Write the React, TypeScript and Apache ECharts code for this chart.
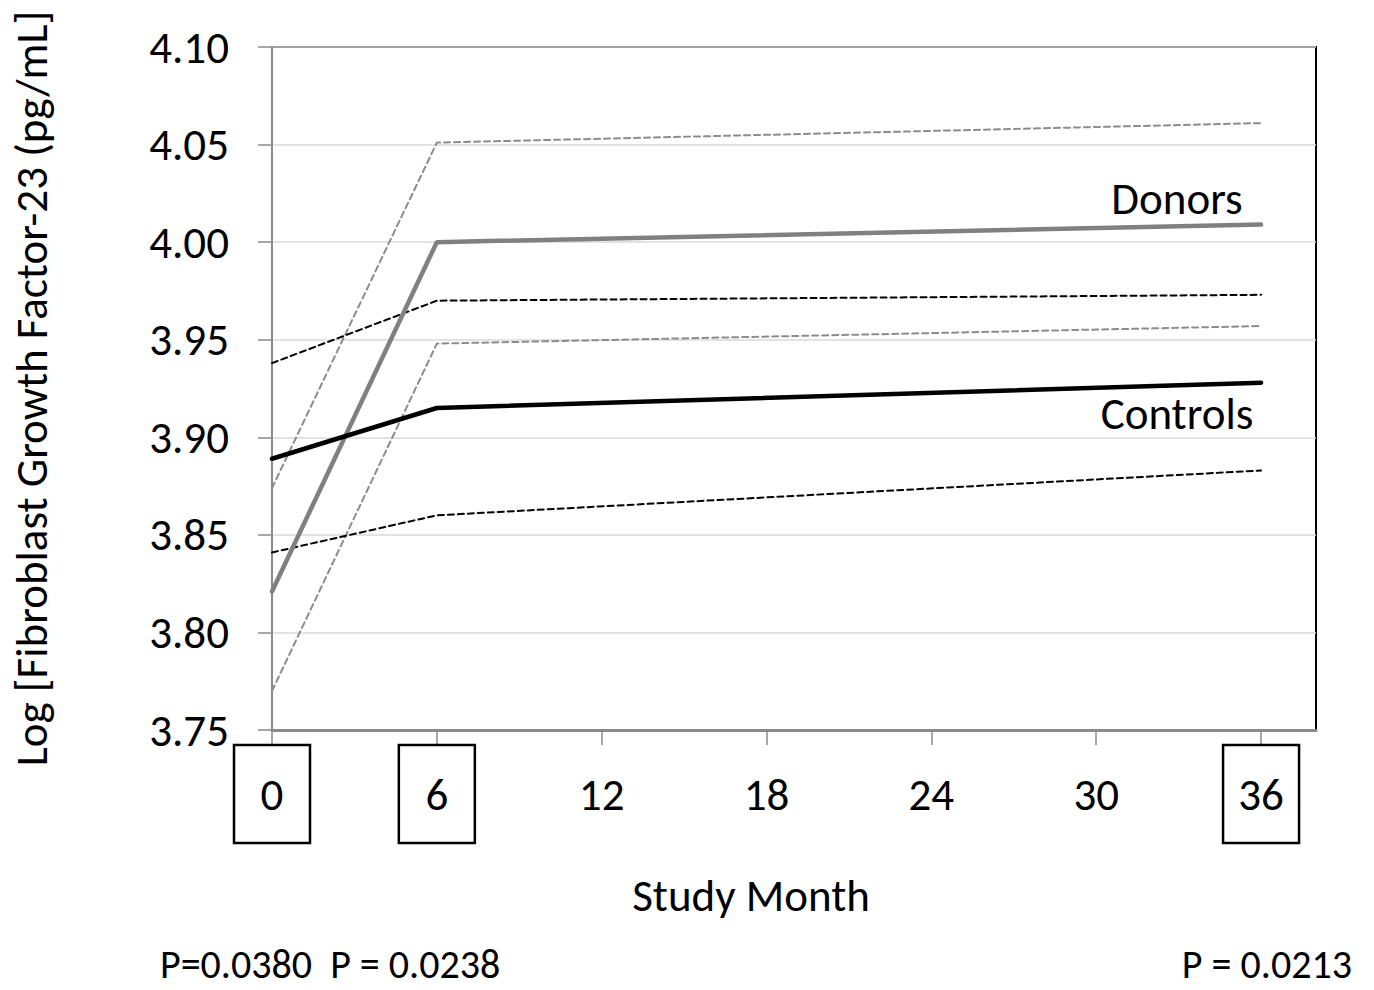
import React, { useEffect, useRef } from "react";
import * as echarts from "echarts";

const months = [0, 6, 36];
const donorsMean = [3.821, 4.0, 4.009];
const donorsUpper = [3.874, 4.051, 4.061];
const donorsLower = [3.770, 3.948, 3.957];
const controlsMean = [3.889, 3.915, 3.928];
const controlsUpper = [3.938, 3.970, 3.973];
const controlsLower = [3.841, 3.860, 3.883];
const xTicks = [0, 6, 12, 18, 24, 30, 36];
const boxedMonths = [0, 6, 36];
const yTitle = "Log [Fibroblast Growth Factor-23 (pg/mL]";
const xTitle = "Study Month";
const pLeft = "P=0.0380  P = 0.0238";
const pRight = "P = 0.0213";

const FONT = "Carlito, Lato, 'Open Sans', sans-serif";
const FS = 45;

const pairs = (ys: number[]) => months.map((m, i) => [m, ys[i]]);

export default function App() {
  const ref = useRef<HTMLDivElement>(null);
  useEffect(() => {
    if (!ref.current) return;
    const chart = echarts.init(ref.current, undefined, { renderer: "svg" });
    const line = (name: string, data: number[], color: string, width: number, dashed: boolean) => ({
      name,
      type: "line",
      data: pairs(data),
      symbol: "none",
      lineStyle: { color, width, type: dashed ? [6, 4] : "solid", cap: "round" },
      z: dashed ? 2 : 3,
    });
    chart.setOption({
      animation: false,
      backgroundColor: "#ffffff",
      grid: {
        left: 272,
        top: 47,
        right: 58,
        bottom: 260,
        containLabel: false,
        outerBoundsMode: "none",
        show: true,
        borderColor: "#000000",
        borderWidth: 2,
        backgroundColor: "transparent",
      },
      xAxis: {
        type: "value",
        min: 0,
        max: 38,
        interval: 6,
        axisLine: { show: true, lineStyle: { color: "#8a8a8a", width: 3 } },
        axisTick: { show: true, length: 15, customValues: xTicks, lineStyle: { color: "#8a8a8a", width: 1.5 } },
        splitLine: { show: false },
        axisLabel: {
          customValues: xTicks,
          margin: 15,
          formatter: (v: number) => (boxedMonths.includes(v) ? `{b|${v}}` : `{n|${v}}`),
          rich: {
            b: {
              fontFamily: FONT,
              fontSize: FS,
              color: "#000",
              width: 76,
              height: 98,
              align: "center",
              verticalAlign: "middle",
              borderColor: "#000",
              borderWidth: 2.5,
            },
            n: {
              fontFamily: FONT,
              fontSize: FS,
              color: "#000",
              width: 76,
              height: 98,
              align: "center",
              verticalAlign: "middle",
            },
          },
        },
      },
      yAxis: {
        type: "value",
        min: 3.75,
        max: 4.1,
        interval: 0.05,
        axisLine: { show: true, lineStyle: { color: "#8a8a8a", width: 2 } },
        axisTick: { show: true, length: 14, lineStyle: { color: "#8a8a8a", width: 1.5 } },
        splitLine: { show: true, lineStyle: { color: "#d9d9d9", width: 1.5 } },
        axisLabel: {
          margin: 43,
          fontFamily: FONT,
          fontSize: FS,
          color: "#000",
          formatter: (v: number) => v.toFixed(2),
        },
        name: yTitle,
        nameLocation: "middle",
        nameRotate: 90,
        nameGap: 218,
        nameTextStyle: { fontFamily: FONT, fontSize: FS, color: "#000" },
      },
      series: [
        line("Donors upper", donorsUpper, "#8c8c8c", 2, true),
        line("Donors lower", donorsLower, "#8c8c8c", 2, true),
        line("Controls upper", controlsUpper, "#000000", 2, true),
        line("Controls lower", controlsLower, "#000000", 2, true),
        line("Donors", donorsMean, "#808080", 4.5, false),
        line("Controls", controlsMean, "#000000", 4.5, false),
      ],
      graphic: [
        { type: "text", x: 1177, y: 198, style: { text: "Donors", font: `${FS}px ${FONT}`, fill: "#000", align: "center", verticalAlign: "middle" } },
        { type: "text", x: 1177, y: 413, style: { text: "Controls", font: `${FS}px ${FONT}`, fill: "#000", align: "center", verticalAlign: "middle" } },
        { type: "text", x: 751, y: 895, style: { text: xTitle, font: `${FS}px ${FONT}`, fill: "#000", align: "center", verticalAlign: "middle" } },
        { type: "text", x: 160, y: 964, style: { text: pLeft, font: `40px ${FONT}`, fill: "#000", align: "left", verticalAlign: "middle" } },
        { type: "text", x: 1352, y: 964, style: { text: pRight, font: `40px ${FONT}`, fill: "#000", align: "right", verticalAlign: "middle" } },
      ],
    });
    return () => chart.dispose();
  }, []);
  return <div ref={ref} style={{ position: "absolute", left: 0, top: 0, width: 1374, height: 990 }} />;
}
